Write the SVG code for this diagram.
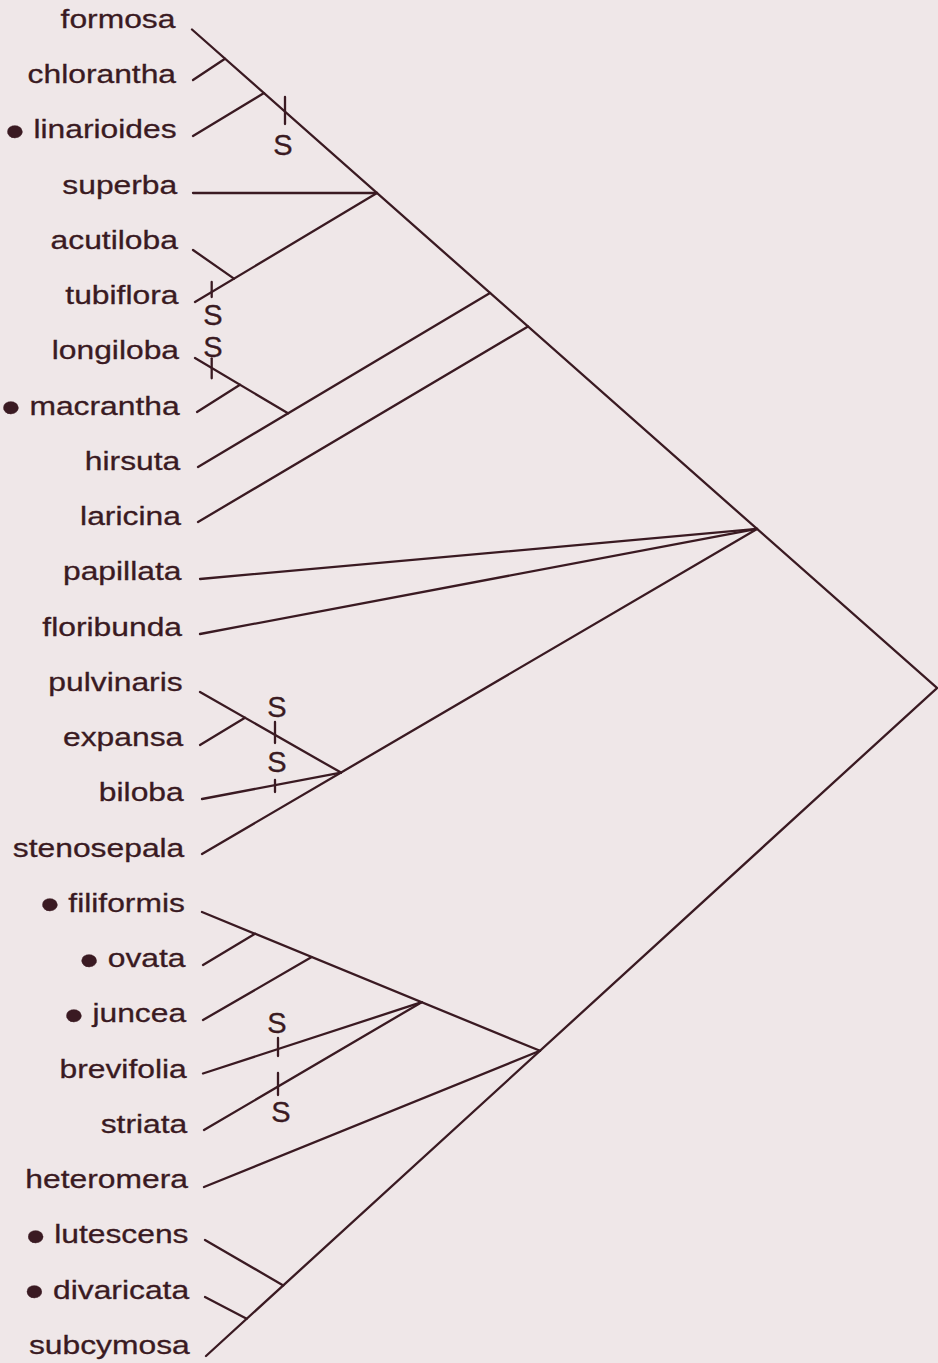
<svg xmlns="http://www.w3.org/2000/svg" width="938" height="1363" viewBox="0 0 938 1363">
<style>
.bg{fill:#efe7e8}
.ln{stroke:#3a1a22;stroke-width:2.3;fill:none;stroke-linecap:round}
.lab{font-family:"Liberation Sans",Arial,sans-serif;font-size:26.5px;fill:#3a1a22;stroke:#3a1a22;stroke-width:0.3;text-anchor:end}
.s{font-family:"Liberation Sans",Arial,sans-serif;font-size:29px;fill:#3a1a22;stroke:#3a1a22;stroke-width:0.3;text-anchor:middle}
.b{font-size:46px}
</style>
<rect class="bg" x="0" y="0" width="938" height="1363"/>
<g id="connectors" class="ln">
<path d="M192,29.5 L937,688 L206,1356"/>
<path d="M193,80 L225,58.7"/>
<path d="M193,136 L264,93.1"/>
<path d="M193,193 L377,193"/>
<path d="M195,302 L377,193"/>
<path d="M193,250 L234,278.6"/>
<path d="M198,467 L490,292.9"/>
<path d="M195,358 L288,413.3"/>
<path d="M197,412 L240,384.8"/>
<path d="M198,522 L528,326.5"/>
<path d="M200,579 L757,528.9"/>
<path d="M200,634 L757,528.9"/>
<path d="M202,854 L757,528.9"/>
<path d="M200,692 L341,772.6"/>
<path d="M200,745 L245,717.7"/>
<path d="M202,799 L341,772.6"/>
<path d="M202,912 L540,1050.8"/>
<path d="M203,965 L255,933.8"/>
<path d="M203,1020 L311.7,957.1"/>
<path d="M203,1073.5 L421.7,1002.2"/>
<path d="M204,1130 L421.7,1002.2"/>
<path d="M204,1187 L540,1050.8"/>
<path d="M205,1240 L283.3,1285.4"/>
<path d="M205,1297 L246.7,1318.8"/>
</g>
<g id="markers">
<g class="ln">
<path d="M285,97 V124"/>
<path d="M211.7,282 V297"/>
<path d="M211.7,358.3 V378.3"/>
<path d="M275,722 V743"/>
<path d="M275,780 V792"/>
<path d="M278,1038 V1056"/>
<path d="M278,1073 V1095"/>
</g>
<text class="s" x="283" y="155">S</text>
<text class="s" x="213" y="325">S</text>
<text class="s" x="213" y="357">S</text>
<text class="s" x="277" y="717">S</text>
<text class="s" x="277" y="772">S</text>
<text class="s" x="277" y="1033">S</text>
<text class="s" x="281" y="1122">S</text>
</g>
<g id="labels" transform="scale(1.2,1)">
<g id="formosa"><text class="lab" x="146.2" y="27.8">formosa</text></g>
<g id="chlorantha"><text class="lab" x="146.7" y="83.05">chlorantha</text></g>
<g id="linarioides"><text class="lab" x="147.2" y="138.3"><tspan class="b" dy="8.6">•</tspan><tspan dy="-8.6"> linarioides</tspan></text></g>
<g id="superba"><text class="lab" x="147.7" y="193.55">superba</text></g>
<g id="acutiloba"><text class="lab" x="148.2" y="248.8">acutiloba</text></g>
<g id="tubiflora"><text class="lab" x="148.7" y="304.05">tubiflora</text></g>
<g id="longiloba"><text class="lab" x="149.2" y="359.3">longiloba</text></g>
<g id="macrantha"><text class="lab" x="149.7" y="414.55"><tspan class="b" dy="8.6">•</tspan><tspan dy="-8.6"> macrantha</tspan></text></g>
<g id="hirsuta"><text class="lab" x="150.2" y="469.8">hirsuta</text></g>
<g id="laricina"><text class="lab" x="150.7" y="525.05">laricina</text></g>
<g id="papillata"><text class="lab" x="151.2" y="580.3">papillata</text></g>
<g id="floribunda"><text class="lab" x="151.7" y="635.55">floribunda</text></g>
<g id="pulvinaris"><text class="lab" x="152.2" y="690.8">pulvinaris</text></g>
<g id="expansa"><text class="lab" x="152.7" y="746.05">expansa</text></g>
<g id="biloba"><text class="lab" x="153.1" y="801.3">biloba</text></g>
<g id="stenosepala"><text class="lab" x="153.6" y="856.55">stenosepala</text></g>
<g id="filiformis"><text class="lab" x="154.1" y="911.8"><tspan class="b" dy="8.6">•</tspan><tspan dy="-8.6"> filiformis</tspan></text></g>
<g id="ovata"><text class="lab" x="154.6" y="967.05"><tspan class="b" dy="8.6">•</tspan><tspan dy="-8.6"> ovata</tspan></text></g>
<g id="juncea"><text class="lab" x="155.1" y="1022.3"><tspan class="b" dy="8.6">•</tspan><tspan dy="-8.6"> juncea</tspan></text></g>
<g id="brevifolia"><text class="lab" x="155.6" y="1077.55">brevifolia</text></g>
<g id="striata"><text class="lab" x="156.1" y="1132.8">striata</text></g>
<g id="heteromera"><text class="lab" x="156.6" y="1188.05">heteromera</text></g>
<g id="lutescens"><text class="lab" x="157.1" y="1243.3"><tspan class="b" dy="8.6">•</tspan><tspan dy="-8.6"> lutescens</tspan></text></g>
<g id="divaricata"><text class="lab" x="157.6" y="1298.55"><tspan class="b" dy="8.6">•</tspan><tspan dy="-8.6"> divaricata</tspan></text></g>
<g id="subcymosa"><text class="lab" x="158.1" y="1353.8">subcymosa</text></g>
</g>
</svg>
